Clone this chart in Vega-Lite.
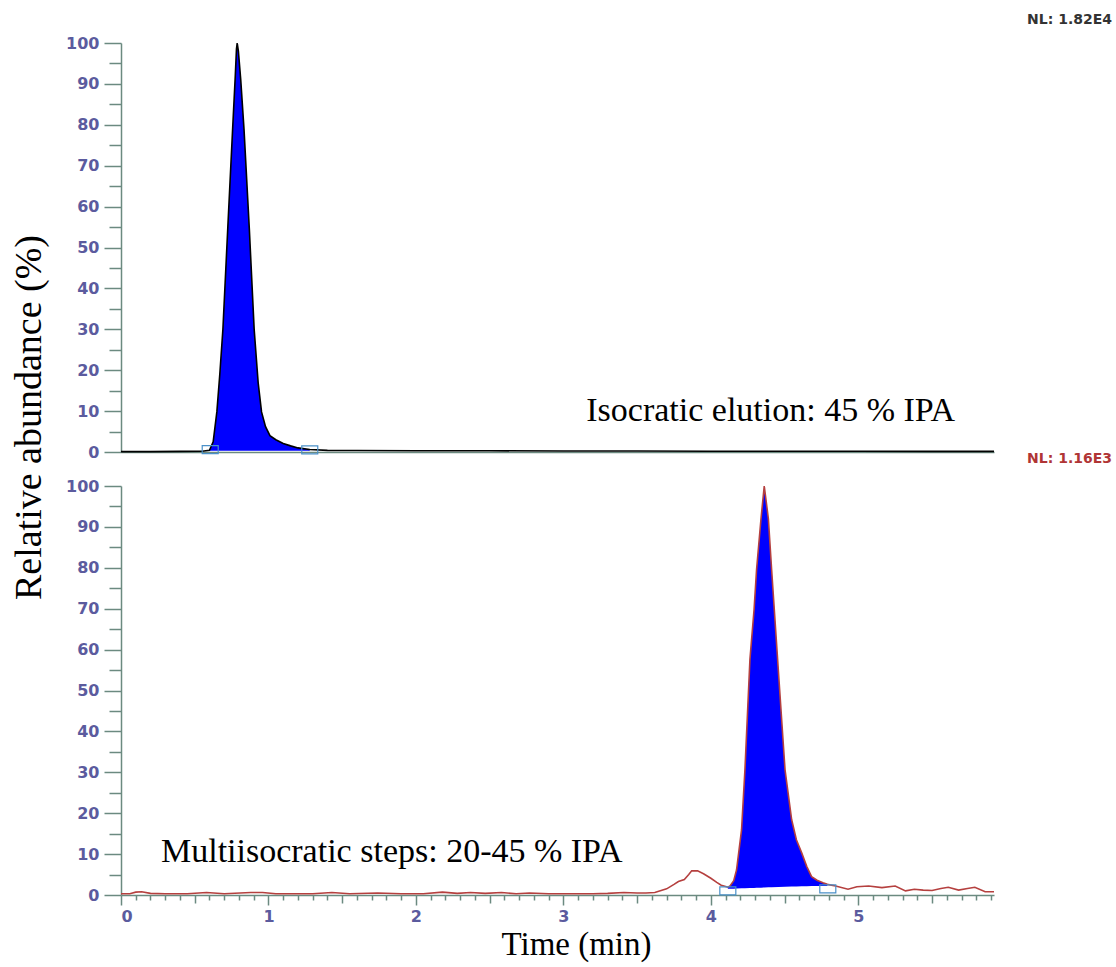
{
  "$schema": "https://vega.github.io/schema/vega-lite/v6.json",
  "padding": {"left": 10, "top": 13, "right": 0, "bottom": 5},
  "background": "white",
  "config": {"view": {"stroke": null}, "axis": {"grid": false}},
  "bounds": "flush",
  "spacing": 34,
  "datasets": {
    "iso": [
      {"t": 0, "v": 0.1}, {"t": 0.2, "v": 0.1}, {"t": 0.4, "v": 0.15}, {"t": 0.55, "v": 0.2},
      {"t": 0.6, "v": 0.4}, {"t": 0.625, "v": 2.5}, {"t": 0.65, "v": 9.8}, {"t": 0.67, "v": 19},
      {"t": 0.691, "v": 30}, {"t": 0.724, "v": 54.7}, {"t": 0.757, "v": 79}, {"t": 0.775, "v": 92},
      {"t": 0.783, "v": 98.5}, {"t": 0.788, "v": 100}, {"t": 0.796, "v": 98}, {"t": 0.812, "v": 91},
      {"t": 0.834, "v": 79}, {"t": 0.87, "v": 54.7}, {"t": 0.903, "v": 30}, {"t": 0.93, "v": 17},
      {"t": 0.953, "v": 9.8}, {"t": 0.98, "v": 6.2}, {"t": 1.01, "v": 4}, {"t": 1.05, "v": 3},
      {"t": 1.1, "v": 2.1}, {"t": 1.15, "v": 1.5}, {"t": 1.2, "v": 1.0}, {"t": 1.28, "v": 0.6},
      {"t": 1.4, "v": 0.4}, {"t": 1.6, "v": 0.35}, {"t": 2.0, "v": 0.3}, {"t": 2.5, "v": 0.3},
      {"t": 3.0, "v": 0.25}, {"t": 3.5, "v": 0.25}, {"t": 4.0, "v": 0.2}, {"t": 4.5, "v": 0.2},
      {"t": 5.0, "v": 0.2}, {"t": 5.5, "v": 0.15}, {"t": 5.92, "v": 0.15}
    ],
    "isoPeak": [
      {"t": 0.6, "v": 0.4}, {"t": 0.625, "v": 2.5}, {"t": 0.65, "v": 9.8}, {"t": 0.67, "v": 19},
      {"t": 0.691, "v": 30}, {"t": 0.724, "v": 54.7}, {"t": 0.757, "v": 79}, {"t": 0.775, "v": 92},
      {"t": 0.783, "v": 98.5}, {"t": 0.788, "v": 100}, {"t": 0.796, "v": 98}, {"t": 0.812, "v": 91},
      {"t": 0.834, "v": 79}, {"t": 0.87, "v": 54.7}, {"t": 0.903, "v": 30}, {"t": 0.93, "v": 17},
      {"t": 0.953, "v": 9.8}, {"t": 0.98, "v": 6.2}, {"t": 1.01, "v": 4}, {"t": 1.05, "v": 3},
      {"t": 1.1, "v": 2.1}, {"t": 1.15, "v": 1.5}, {"t": 1.2, "v": 1.0}, {"t": 1.28, "v": 0.6}
    ],
    "isoBox": [{"t": 0.605, "v": 0.6}, {"t": 1.28, "v": 0.5}],
    "multi": [
      {"t": 0, "v": 0.3}, {"t": 0.06, "v": 0.3}, {"t": 0.1, "v": 0.7}, {"t": 0.14, "v": 0.8},
      {"t": 0.2, "v": 0.4}, {"t": 0.3, "v": 0.3}, {"t": 0.45, "v": 0.3}, {"t": 0.58, "v": 0.6},
      {"t": 0.7, "v": 0.3}, {"t": 0.88, "v": 0.6}, {"t": 0.96, "v": 0.6}, {"t": 1.05, "v": 0.3},
      {"t": 1.2, "v": 0.3}, {"t": 1.3, "v": 0.3}, {"t": 1.43, "v": 0.6}, {"t": 1.55, "v": 0.3},
      {"t": 1.74, "v": 0.5}, {"t": 1.9, "v": 0.3}, {"t": 2.05, "v": 0.3}, {"t": 2.18, "v": 0.7},
      {"t": 2.28, "v": 0.4}, {"t": 2.37, "v": 0.6}, {"t": 2.47, "v": 0.4}, {"t": 2.58, "v": 0.6},
      {"t": 2.68, "v": 0.3}, {"t": 2.77, "v": 0.5}, {"t": 2.9, "v": 0.3}, {"t": 3.05, "v": 0.3},
      {"t": 3.2, "v": 0.3}, {"t": 3.3, "v": 0.4}, {"t": 3.41, "v": 0.6}, {"t": 3.5, "v": 0.5},
      {"t": 3.56, "v": 0.5}, {"t": 3.62, "v": 0.6}, {"t": 3.7, "v": 1.5}, {"t": 3.75, "v": 2.6},
      {"t": 3.78, "v": 3.3}, {"t": 3.82, "v": 3.8}, {"t": 3.85, "v": 5.0}, {"t": 3.87, "v": 5.9},
      {"t": 3.91, "v": 5.9}, {"t": 3.95, "v": 5.2}, {"t": 4.0, "v": 4.1}, {"t": 4.04, "v": 3.1},
      {"t": 4.07, "v": 2.4}, {"t": 4.1, "v": 2.1}, {"t": 4.115, "v": 1.9}, {"t": 4.13, "v": 2.2},
      {"t": 4.155, "v": 3.5}, {"t": 4.174, "v": 6.1}, {"t": 4.208, "v": 15.9}, {"t": 4.231, "v": 30.6},
      {"t": 4.265, "v": 57.6}, {"t": 4.293, "v": 69.8}, {"t": 4.31, "v": 79.6}, {"t": 4.34, "v": 92},
      {"t": 4.362, "v": 100}, {"t": 4.39, "v": 92}, {"t": 4.412, "v": 79.6}, {"t": 4.458, "v": 54.7},
      {"t": 4.503, "v": 30.6}, {"t": 4.548, "v": 18.4}, {"t": 4.58, "v": 13.5}, {"t": 4.616, "v": 10.3},
      {"t": 4.65, "v": 7}, {"t": 4.683, "v": 4.5}, {"t": 4.72, "v": 3.6}, {"t": 4.76, "v": 3.0},
      {"t": 4.79, "v": 2.6}, {"t": 4.846, "v": 2.2}, {"t": 4.93, "v": 1.4}, {"t": 4.99, "v": 2.0},
      {"t": 5.07, "v": 2.2}, {"t": 5.16, "v": 1.8}, {"t": 5.25, "v": 2.2}, {"t": 5.32, "v": 1.0},
      {"t": 5.38, "v": 1.4}, {"t": 5.44, "v": 1.2}, {"t": 5.5, "v": 1.1}, {"t": 5.56, "v": 1.6},
      {"t": 5.61, "v": 1.9}, {"t": 5.68, "v": 1.2}, {"t": 5.74, "v": 1.6}, {"t": 5.79, "v": 1.9},
      {"t": 5.86, "v": 0.8}, {"t": 5.92, "v": 0.8}
    ],
    "multiPeak": [
      {"t": 4.115, "v": 1.9, "b": 1.5}, {"t": 4.13, "v": 2.2, "b": 1.52}, {"t": 4.155, "v": 3.5, "b": 1.55},
      {"t": 4.174, "v": 6.1, "b": 1.58}, {"t": 4.208, "v": 15.9, "b": 1.62}, {"t": 4.231, "v": 30.6, "b": 1.65},
      {"t": 4.265, "v": 57.6, "b": 1.7}, {"t": 4.293, "v": 69.8, "b": 1.73}, {"t": 4.31, "v": 79.6, "b": 1.75},
      {"t": 4.34, "v": 92, "b": 1.8}, {"t": 4.362, "v": 100, "b": 1.82}, {"t": 4.39, "v": 92, "b": 1.87},
      {"t": 4.412, "v": 79.6, "b": 1.9}, {"t": 4.458, "v": 54.7, "b": 1.95}, {"t": 4.503, "v": 30.6, "b": 2.0},
      {"t": 4.548, "v": 18.4, "b": 2.05}, {"t": 4.58, "v": 13.5, "b": 2.08}, {"t": 4.616, "v": 10.3, "b": 2.12},
      {"t": 4.65, "v": 7, "b": 2.15}, {"t": 4.683, "v": 4.5, "b": 2.18}, {"t": 4.72, "v": 3.6, "b": 2.2},
      {"t": 4.76, "v": 3.0, "b": 2.2}, {"t": 4.79, "v": 2.6, "b": 2.2}
    ],
    "multiBox": [{"t": 4.115, "v": 1.0}, {"t": 4.793, "v": 1.5}]
  },
  "vconcat": [
    {
      "width": 873,
      "height": 409,
      "title": {"text": "NL: 1.82E4", "anchor": "end", "frame": "group", "dx": 118, "offset": 8, "fontSize": 14, "font": "DejaVu Sans", "fontWeight": "bold", "color": "#333333"},
      "layer": [
        {
          "data": {"name": "isoPeak"},
          "mark": {"type": "area", "color": "#0000FF", "opacity": 1},
          "encoding": {
            "x": {"field": "t", "type": "quantitative", "scale": {"domain": [0, 5.92], "nice": false, "zero": false},
                  "axis": {"orient": "bottom", "labels": false, "ticks": false, "domain": true, "domainColor": "#6B8A80", "domainWidth": 1.5, "title": null}},
            "y": {"field": "v", "type": "quantitative", "scale": {"domain": [0, 100], "nice": false},
                  "axis": {"orient": "left", "values": [0, 10, 20, 30, 40, 50, 60, 70, 80, 90, 100], "tickSize": 17, "tickColor": "#6B8A80", "tickWidth": 1.5,
                           "domainColor": "#6B8A80", "domainWidth": 1.5, "labelFont": "DejaVu Sans", "labelFontWeight": "bold", "labelFontSize": 16,
                           "labelColor": "#5B5B9E", "labelPadding": 5, "title": "Relative abundance (%)", "titleFont": "Liberation Serif",
                           "titleFontSize": 38, "titleFontWeight": "normal", "titleColor": "#000000", "titleY": 374, "titlePadding": 17}},
            "y2": {"datum": 0.3}
          }
        },
        {
          "data": {"name": "iso"},
          "mark": {"type": "line", "color": "#000000", "strokeWidth": 1.6},
          "encoding": {
            "x": {"field": "t", "type": "quantitative", "axis": null},
            "y": {"field": "v", "type": "quantitative",
                  "axis": {"orient": "left", "values": [5, 15, 25, 35, 45, 55, 65, 75, 85, 95], "tickSize": 12, "tickColor": "#6B8A80", "tickWidth": 1.5, "labels": false, "domain": false, "title": null}}
          }
        },
        {
          "data": {"name": "isoBox"},
          "mark": {"type": "point", "shape": "M-1,-0.5H1V0.5H-1Z", "size": 256, "filled": false, "stroke": "#4A90C8", "strokeWidth": 1.2, "opacity": 1},
          "encoding": {
            "x": {"field": "t", "type": "quantitative", "axis": null},
            "y": {"field": "v", "type": "quantitative", "axis": null}
          }
        },
        {
          "data": {"values": [{}]},
          "mark": {"type": "text", "font": "Liberation Serif", "fontSize": 34, "align": "left", "baseline": "middle", "color": "#000000"},
          "encoding": {
            "x": {"datum": 3.155, "type": "quantitative", "axis": null},
            "y": {"datum": 10.1, "type": "quantitative", "axis": null},
            "text": {"value": "Isocratic elution: 45 % IPA"}
          }
        }
      ],
      "resolve": {"axis": {"x": "independent", "y": "independent"}}
    },
    {
      "width": 873,
      "height": 409,
      "title": {"text": "NL: 1.16E3", "anchor": "end", "frame": "group", "dx": 118, "offset": 12, "fontSize": 14, "font": "DejaVu Sans", "fontWeight": "bold", "color": "#B03535"},
      "layer": [
        {
          "data": {"name": "multiPeak"},
          "mark": {"type": "area", "color": "#0000FF", "opacity": 1},
          "encoding": {
            "x": {"field": "t", "type": "quantitative", "scale": {"domain": [0, 5.92], "nice": false, "zero": false},
                  "axis": {"orient": "bottom", "values": [0, 1, 2, 3, 4, 5], "tickSize": 10, "tickColor": "#6B8A80", "tickWidth": 1.5,
                           "domainColor": "#6B8A80", "domainWidth": 1.5, "labelFont": "DejaVu Sans", "labelFontWeight": "bold", "labelFontSize": 16,
                           "labelColor": "#5B5B9E", "labelPadding": 3, "title": "Time (min)", "titleFont": "Liberation Serif",
                           "titleFontSize": 33, "titleFontWeight": "normal", "titleColor": "#000000", "titleX": 455, "titlePadding": 4}},
            "y": {"field": "v", "type": "quantitative", "scale": {"domain": [0, 100], "nice": false},
                  "axis": {"orient": "left", "values": [0, 10, 20, 30, 40, 50, 60, 70, 80, 90, 100], "tickSize": 17, "tickColor": "#6B8A80", "tickWidth": 1.5,
                           "domainColor": "#6B8A80", "domainWidth": 1.5, "labelFont": "DejaVu Sans", "labelFontWeight": "bold", "labelFontSize": 16,
                           "labelColor": "#5B5B9E", "labelPadding": 5, "title": null}},
            "y2": {"field": "b"}
          }
        },
        {
          "data": {"name": "multi"},
          "mark": {"type": "line", "color": "#B5403F", "strokeWidth": 1.6},
          "encoding": {
            "x": {"field": "t", "type": "quantitative",
                  "axis": {"orient": "bottom", "values": [0.1, 0.2, 0.3, 0.4, 0.6, 0.7, 0.8, 0.9, 1.1, 1.2, 1.3, 1.4, 1.6, 1.7, 1.8, 1.9, 2.1, 2.2, 2.3, 2.4, 2.6, 2.7, 2.8, 2.9, 3.1, 3.2, 3.3, 3.4, 3.6, 3.7, 3.8, 3.9, 4.1, 4.2, 4.3, 4.4, 4.6, 4.7, 4.8, 4.9, 5.1, 5.2, 5.3, 5.4, 5.6, 5.7, 5.8, 5.9],
                           "tickSize": 5, "tickColor": "#6B8A80", "tickWidth": 1.5, "labels": false, "domain": false, "title": null}},
            "y": {"field": "v", "type": "quantitative",
                  "axis": {"orient": "left", "values": [5, 15, 25, 35, 45, 55, 65, 75, 85, 95], "tickSize": 12, "tickColor": "#6B8A80", "tickWidth": 1.5, "labels": false, "domain": false, "title": null}}
          }
        },
        {
          "data": {"name": "multiBox"},
          "mark": {"type": "point", "shape": "M-1,-0.5H1V0.5H-1Z", "size": 256, "filled": false, "stroke": "#4A90C8", "strokeWidth": 1.2, "opacity": 1},
          "encoding": {
            "x": {"field": "t", "type": "quantitative",
                  "axis": {"orient": "bottom", "values": [0.5, 1.5, 2.5, 3.5, 4.5, 5.5], "tickSize": 8, "tickColor": "#6B8A80", "tickWidth": 1.5, "labels": false, "domain": false, "title": null}},
            "y": {"field": "v", "type": "quantitative", "axis": null}
          }
        },
        {
          "data": {"values": [{}]},
          "mark": {"type": "text", "font": "Liberation Serif", "fontSize": 34, "align": "left", "baseline": "middle", "color": "#000000"},
          "encoding": {
            "x": {"datum": 0.271, "type": "quantitative", "axis": null},
            "y": {"datum": 10.5, "type": "quantitative", "axis": null},
            "text": {"value": "Multiisocratic steps: 20-45 % IPA"}
          }
        }
      ],
      "resolve": {"axis": {"x": "independent", "y": "independent"}}
    }
  ]
}
